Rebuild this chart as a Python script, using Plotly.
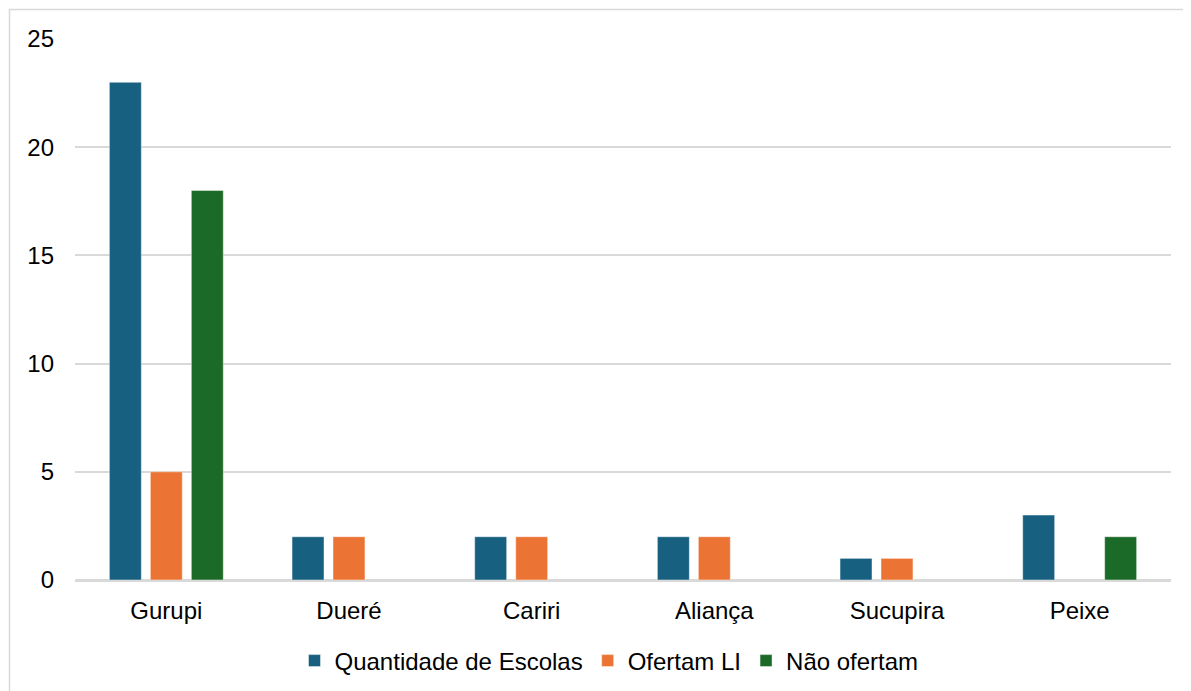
import plotly.graph_objects as go

categories = ["Gurupi", "Dueré", "Cariri", "Aliança", "Sucupira", "Peixe"]
quantidade = [23, 2, 2, 2, 1, 3]
ofertam = [5, 2, 2, 2, 1, None]
nao_ofertam = [18, None, None, None, None, 2]
series_names = ["Quantidade de Escolas", "Ofertam LI", "Não ofertam"]
colors = ["#17607F", "#EB7434", "#1C6A27"]
y_ticks = [0, 5, 10, 15, 20, 25]

OFF = 8  # page body margin
W, H = 1191 - OFF, 691 - OFF
L, R, T = 75 - OFF, 20, 39 - OFF
B = H - (580 - OFF)
pw, ph = W - L - R, H - T - B

fig = go.Figure()
for name, vals, col in zip(series_names, [quantidade, ofertam, nao_ofertam], colors):
    fig.add_trace(go.Bar(
        x=categories, y=vals, name=name,
        marker=dict(color=col, line=dict(color="rgba(255,255,255,0.45)", width=1)),
    ))

def px_to_paper_x(px):
    return (px - OFF - L) / pw

def px_to_paper_y(py):
    return (H - B - (py - OFF)) / ph

fig.update_layout(
    width=W, height=H,
    margin=dict(l=L, r=R, t=T, b=B, autoexpand=False),
    paper_bgcolor="white", plot_bgcolor="white",
    barmode="group", bargap=0.327, bargroupgap=0.22,
    font=dict(family="Liberation Sans, Arial, sans-serif", size=24, color="#000000"),
    showlegend=True,
    legend=dict(orientation="h", x=px_to_paper_x(609), xanchor="center",
                y=px_to_paper_y(661), yanchor="middle",
                font=dict(size=24), itemwidth=30, traceorder="normal"),
    xaxis=dict(showgrid=False, showline=True, linecolor="#d9d9d9", linewidth=1.5,
               ticks="", tickfont=dict(size=24), ticklabelstandoff=8),
    yaxis=dict(range=[0, 25], tickvals=y_ticks, showgrid=True, gridcolor="#d9d9d9", gridwidth=1.5,
               zeroline=True, zerolinecolor="#d9d9d9", zerolinewidth=1.5,
               showline=False, ticks="", tickfont=dict(size=24), ticklabelstandoff=20),
    shapes=[dict(type="rect", xref="paper", yref="paper",
                 x0=px_to_paper_x(9.5), x1=px_to_paper_x(1191 + 20),
                 y0=px_to_paper_y(691 + 20), y1=px_to_paper_y(9.5),
                 line=dict(color="#d9d9d9", width=1.5), fillcolor="rgba(0,0,0,0)", layer="below")],
)

fig.write_html("out.html")
